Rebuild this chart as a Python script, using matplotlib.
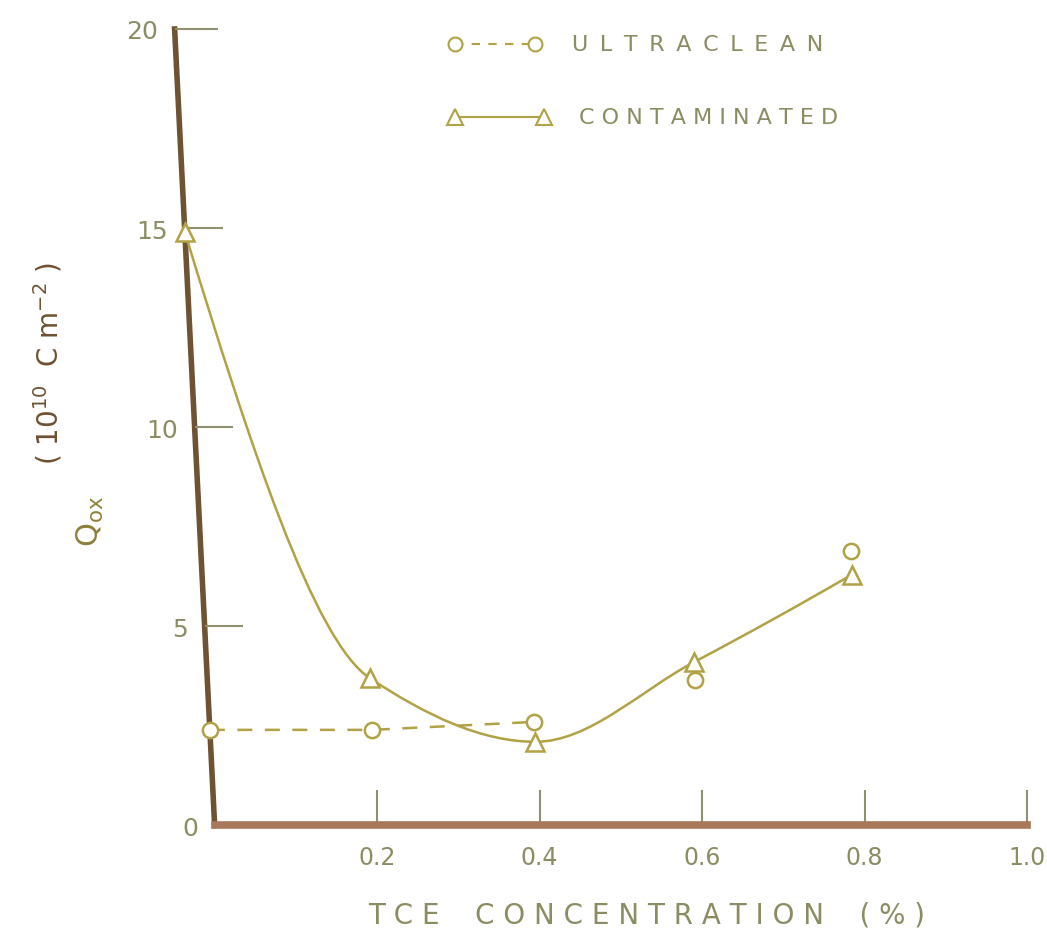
import numpy as np
import matplotlib
matplotlib.use("Agg")
import matplotlib.pyplot as plt
from matplotlib.path import Path
from matplotlib.patches import PathPatch
from matplotlib.transforms import Affine2D

# data
tce = [0.0, 0.2, 0.4, 0.6, 0.8]
q_clean = [2.4, 2.4, 2.6, 3.65, 6.9]
q_cont = [14.9, 3.7, 2.1, 4.1, 6.3]
xticks = [0.2, 0.4, 0.6, 0.8, 1.0]
xtick_labels = ["0.2", "0.4", "0.6", "0.8", "1.0"]
yticks = [0, 5, 10, 15, 20]

LINE = "#b0a245"
TXT = "#8c8c62"
TICK = "#8f9070"
AXL = "#6e5232"
AXB = "#a8785a"


def smooth_path(xs, ys):
    # monotone cubic (pchip-style) through the points, as bezier segments
    x = np.asarray(xs, float)
    y = np.asarray(ys, float)
    h = np.diff(x)
    dl = np.diff(y) / h
    d = np.zeros_like(y)
    for i in range(1, len(x) - 1):
        if dl[i - 1] * dl[i] > 0:
            w1 = 2 * h[i] + h[i - 1]
            w2 = h[i] + 2 * h[i - 1]
            d[i] = (w1 + w2) / (w1 / dl[i - 1] + w2 / dl[i])
    d[0] = ((2 * h[0] + h[1]) * dl[0] - h[0] * dl[1]) / (h[0] + h[1])
    d[-1] = ((2 * h[-1] + h[-2]) * dl[-1] - h[-1] * dl[-2]) / (h[-1] + h[-2])
    verts = [(x[0], y[0])]
    codes = [Path.MOVETO]
    for i in range(len(x) - 1):
        verts += [(x[i] + h[i] / 3, y[i] + d[i] * h[i] / 3),
                  (x[i + 1] - h[i] / 3, y[i + 1] - d[i + 1] * h[i] / 3),
                  (x[i + 1], y[i + 1])]
        codes += [Path.CURVE4] * 3
    return Path(verts, codes)


fig = plt.figure(figsize=(10.47, 9.37), dpi=100)
ax = fig.add_axes([0.205, 0.118, 0.776, 0.850])
ax.set_xlim(0, 1.0)
ax.set_ylim(0, 20)

# the scanned figure leans to the left going up: shear in pixel space
yb = 0.118 * 937
s = 40 / 796
shear = Affine2D(np.array([[1, -s, s * yb], [0, 1, 0], [0, 0, 1]]))
tr = ax.transData + shear

# contaminated: smooth solid curve
ax.add_patch(PathPatch(smooth_path(tce, q_cont), fc="none", ec=LINE, lw=1.8, zorder=2,
                       transform=tr, clip_on=False))
# ultraclean: dashed up to 0.4, then follows the other curve
ax.plot(tce[:3], q_clean[:3], ls=(0, (6, 5)), color=LINE, lw=1.8, zorder=2, transform=tr,
        clip_on=False)

ax.plot(tce, q_clean, "o", ls="none", ms=11, mfc="white", mec=LINE, mew=1.8, zorder=4,
        clip_on=False, transform=tr)
ax.plot(tce, q_cont, "^", ls="none", ms=13, mfc="white", mec=LINE, mew=1.8, zorder=3,
        clip_on=False, transform=tr)

# axes look
for sp in ["top", "right"]:
    ax.spines[sp].set_visible(False)
ax.spines["left"].set_color(AXL)
ax.spines["left"].set_linewidth(4)
ax.spines["left"].set_transform(ax.spines["left"].get_transform() + shear)
ax.spines["left"].set_zorder(1)
ax.spines["bottom"].set_color(AXB)
ax.spines["bottom"].set_linewidth(5.5)

ax.set_xticks(xticks)
ax.set_xticklabels(xtick_labels)
ax.set_yticks(yticks)
ax.tick_params(axis="x", direction="in", length=25, width=1.5, color=TICK,
               labelsize=17, labelcolor=TXT, pad=14)
ax.tick_params(axis="y", direction="in", length=27, width=1.5, color=TICK,
               labelsize=18, labelcolor=TXT, pad=12)
for t in ax.yaxis.get_major_ticks():
    t.tick1line.set_transform(t.tick1line.get_transform() + shear)
    t.label1.set_transform(t.label1.get_transform() + shear)
top = ax.yaxis.get_major_ticks()[-1]
top.tick1line.set_markersize(31)
top.tick1line.set_color(AXL)

# axis titles
fig.text(0.618, 0.023, "T C E    C O N C E N T R A T I O N    ( % )", ha="center",
         va="center", fontsize=20, color=TXT)
fig.text(0.086, 0.444, r"Q$_{\mathrm{ox}}$", rotation=90, ha="center", va="center",
         fontsize=22, color="#8f7f3c")
fig.text(0.046, 0.612, r"( 10$^{10}$  C m$^{-2}$ )", rotation=90, ha="center",
         va="center", fontsize=20, color="#6e5030")

# legend
sp2 = " \u2009"
ax.plot([0.296, 0.394], [0.981, 0.981], transform=ax.transAxes, ls=(0, (4, 4)),
        color=LINE, lw=1.5, clip_on=False)
ax.plot([0.296, 0.394], [0.981, 0.981], "o", transform=ax.transAxes, ms=10, mfc="white",
        mec=LINE, mew=1.5, clip_on=False)
ax.text(0.44, 0.981, sp2.join("ULTRACLEAN"), transform=ax.transAxes, fontsize=16,
        color=TXT, va="center")
ax.plot([0.296, 0.405], [0.889, 0.889], transform=ax.transAxes, ls="-",
        color=LINE, lw=1.5, clip_on=False)
ax.plot([0.296, 0.405], [0.889, 0.889], "^", transform=ax.transAxes, ms=11, mfc="white",
        mec=LINE, mew=1.5, clip_on=False)
ax.text(0.448, 0.889, " ".join("CONTAMINATED"), transform=ax.transAxes, fontsize=16,
        color=TXT, va="center")

fig.savefig("out.png", dpi=100)
